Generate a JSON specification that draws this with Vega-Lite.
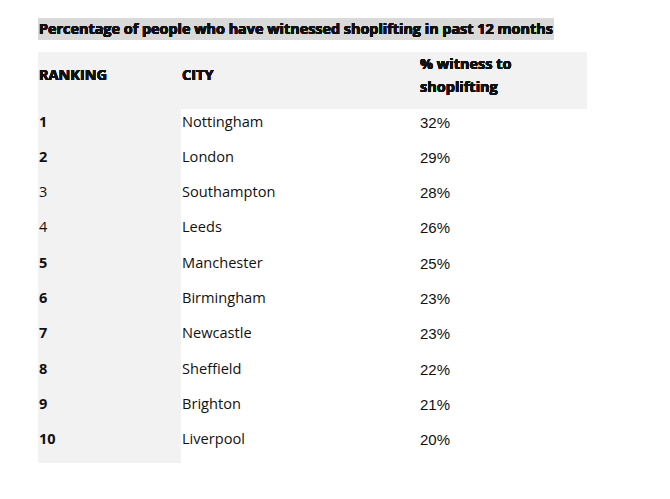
{
  "$schema": "https://vega.github.io/schema/vega-lite/v6.json",
  "width": 670,
  "height": 499,
  "autosize": {"type": "none"},
  "padding": 0,
  "background": "white",
  "config": {"view": {"stroke": null}},
  "data": {
    "values": [
      {"rank": 1, "city": "Nottingham", "pct": 0.32},
      {"rank": 2, "city": "London", "pct": 0.29},
      {"rank": 3, "city": "Southampton", "pct": 0.28},
      {"rank": 4, "city": "Leeds", "pct": 0.26},
      {"rank": 5, "city": "Manchester", "pct": 0.25},
      {"rank": 6, "city": "Birmingham", "pct": 0.23},
      {"rank": 7, "city": "Newcastle", "pct": 0.23},
      {"rank": 8, "city": "Sheffield", "pct": 0.22},
      {"rank": 9, "city": "Brighton", "pct": 0.21},
      {"rank": 10, "city": "Liverpool", "pct": 0.20}
    ]
  },
  "encoding": {
    "y": {"field": "rank", "type": "quantitative", "axis": null,
          "scale": {"domain": [-2.4515, 11.7011], "reverse": true, "nice": false, "zero": false}}
  },
  "layer": [
    {
      "mark": {"type": "rect", "color": "#d9d9d9"},
      "encoding": {
        "x": {"datum": 38, "type": "quantitative", "axis": null, "scale": {"domain": [0, 670], "nice": false, "zero": false}},
        "x2": {"datum": 554},
        "y": {"datum": -1.927, "type": "quantitative"},
        "y2": {"datum": -1.331}
      }
    },
    {
      "mark": {"type": "rect", "color": "#f2f2f2"},
      "encoding": {
        "x": {"datum": 38, "type": "quantitative"},
        "x2": {"datum": 587},
        "y": {"datum": -0.977, "type": "quantitative"},
        "y2": {"datum": 0.640}
      }
    },
    {
      "mark": {"type": "rect", "color": "#f2f2f2"},
      "encoding": {
        "x": {"datum": 38, "type": "quantitative"},
        "x2": {"datum": 181},
        "y": {"datum": 0.640, "type": "quantitative"},
        "y2": {"datum": 10.680}
      }
    },
    {
      "mark": {"type": "text", "text": "Percentage of people who have witnessed shoplifting in past 12 months",
               "font": "Open Sans", "fontWeight": "bold", "fontSize": 14.4, "align": "left", "baseline": "middle", "color": "#111111"},
      "encoding": {
        "x": {"datum": 39, "type": "quantitative"},
        "y": {"datum": -1.60, "type": "quantitative"}
      }
    },
    {
      "mark": {"type": "text", "text": "RANKING",
               "font": "Open Sans", "fontWeight": "bold", "fontSize": 14.5, "align": "left", "baseline": "middle", "color": "#111111"},
      "encoding": {
        "x": {"datum": 39, "type": "quantitative"},
        "y": {"datum": -0.30, "type": "quantitative"}
      }
    },
    {
      "mark": {"type": "text", "text": "CITY",
               "font": "Open Sans", "fontWeight": "bold", "fontSize": 14.5, "align": "left", "baseline": "middle", "color": "#111111"},
      "encoding": {
        "x": {"datum": 182, "type": "quantitative"},
        "y": {"datum": -0.30, "type": "quantitative"}
      }
    },
    {
      "mark": {"type": "text", "text": ["% witness to", "shoplifting"], "lineHeight": 23,
               "font": "Open Sans", "fontWeight": "bold", "fontSize": 14.5, "align": "left", "baseline": "middle", "color": "#111111"},
      "encoding": {
        "x": {"datum": 420, "type": "quantitative"},
        "y": {"datum": -0.62, "type": "quantitative"}
      }
    },
    {
      "transform": [{"filter": "datum.rank != 3 && datum.rank != 4"}],
      "mark": {"type": "text", "font": "Open Sans", "fontWeight": "bold", "fontSize": 14.5, "align": "left", "baseline": "middle", "dy": 1, "color": "#111111"},
      "encoding": {
        "x": {"datum": 39, "type": "quantitative"},
        "text": {"field": "rank", "type": "quantitative"}
      }
    },
    {
      "transform": [{"filter": "datum.rank == 3 || datum.rank == 4"}],
      "mark": {"type": "text", "font": "Open Sans", "fontWeight": "normal", "fontSize": 14.5, "align": "left", "baseline": "middle", "dy": 1, "color": "#111111"},
      "encoding": {
        "x": {"datum": 39, "type": "quantitative"},
        "text": {"field": "rank", "type": "quantitative"}
      }
    },
    {
      "mark": {"type": "text", "font": "Open Sans", "fontSize": 14.6, "align": "left", "baseline": "middle", "dy": 1, "color": "#111111"},
      "encoding": {
        "x": {"datum": 182, "type": "quantitative"},
        "text": {"field": "city", "type": "nominal"}
      }
    },
    {
      "mark": {"type": "text", "font": "Liberation Sans", "fontSize": 15, "align": "left", "baseline": "middle", "dy": 1, "color": "#111111"},
      "encoding": {
        "x": {"datum": 420, "type": "quantitative"},
        "text": {"field": "pct", "type": "quantitative", "format": ".0%"}
      }
    }
  ]
}
